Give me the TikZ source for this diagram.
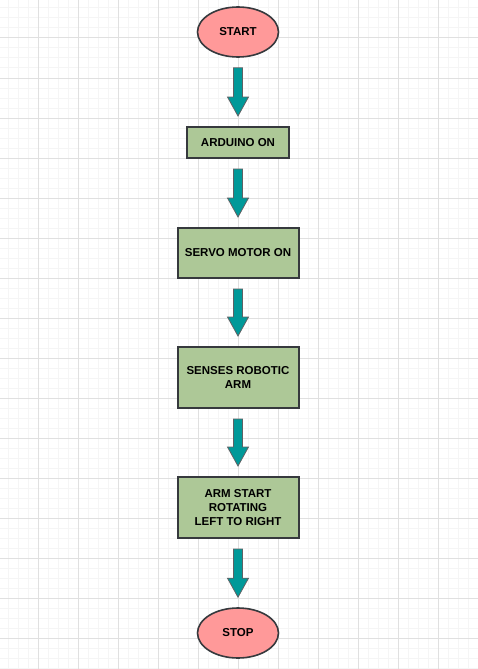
\documentclass[tikz,border=0pt]{standalone}
\usepackage{fontspec}
\setmainfont{Liberation Sans}
\usetikzlibrary{calc,shapes.geometric}
\definecolor{gridminor}{HTML}{F5F5F5}
\definecolor{gridmajor}{HTML}{E0E0E0}
\definecolor{termpink}{HTML}{FF9999}
\definecolor{stepgreen}{HTML}{ADC897}
\definecolor{arrteal}{HTML}{009999}
\definecolor{edge}{HTML}{36393D}
\newcommand\flowarrow[2]{%
\draw [flowarr] ($(#1.south)+(-4.5,10)$) -- ($(#1.south |- #2.north)+(-4.5,-29)$)
 -- ($(#1.south |- #2.north)+(-10.5,-29)$) -- ($(#1.south |- #2.north)+(0,-10)$)
 -- ($(#1.south |- #2.north)+(10.5,-29)$) -- ($(#1.south |- #2.north)+(4.5,-29)$)
 -- ($(#1.south)+(4.5,10)$) -- cycle;}

\begin{document}
\begin{tikzpicture}[x=1pt,y=-1pt,
  term/.style={ellipse,draw=edge,line width=1.6pt,fill=termpink,
    minimum width=81pt,minimum height=50pt,inner sep=0pt,
    font=\fontsize{11.5}{14}\selectfont\bfseries},
  stepbox/.style={rectangle,draw=edge,line width=2pt,fill=stepgreen,
    inner sep=0pt,align=center,
    font=\fontsize{11.5}{14}\selectfont\bfseries},
  flowarr/.style={fill=arrteal,draw=edge!80,line width=0.8pt,line join=miter}]
\useasboundingbox (0,0) rectangle (478,669);
\fill [white] (0,0) rectangle (478,669);
% grid
\foreach \x in {8,18,...,478}
  \draw [gridminor,line width=1pt] (\x,0) -- (\x,669);
\foreach \y in {8,18,...,669}
  \draw [gridminor,line width=1pt] (0,\y) -- (478,\y);
\foreach \x in {38,78,...,478}
  \draw [gridmajor,line width=1pt] (\x,0) -- (\x,669);
\foreach \y in {38,78,...,669}
  \draw [gridmajor,line width=1pt] (0,\y) -- (478,\y);
% start and stop
\node [term] (start) at (238,32) {START};
\node [term] (stop) at (238,633) {STOP};
% steps
\node [stepbox,minimum width=102pt,minimum height=31pt] (arduino) at (238,142.5) {ARDUINO ON};
\node [stepbox,minimum width=121pt,minimum height=50pt] (servo) at (238,253) {SERVO MOTOR ON};
\node [stepbox,minimum width=121pt,minimum height=61pt] (senses) at (238,377.5) {SENSES ROBOTIC\\ARM};
\node [stepbox,minimum width=121pt,minimum height=61pt] (rotate) at (238,507.5) {ARM START\\ROTATING\\LEFT TO RIGHT};
% arrows
\flowarrow{start}{arduino}
\flowarrow{arduino}{servo}
\flowarrow{servo}{senses}
\flowarrow{senses}{rotate}
\flowarrow{rotate}{stop}
\end{tikzpicture}
\end{document}
